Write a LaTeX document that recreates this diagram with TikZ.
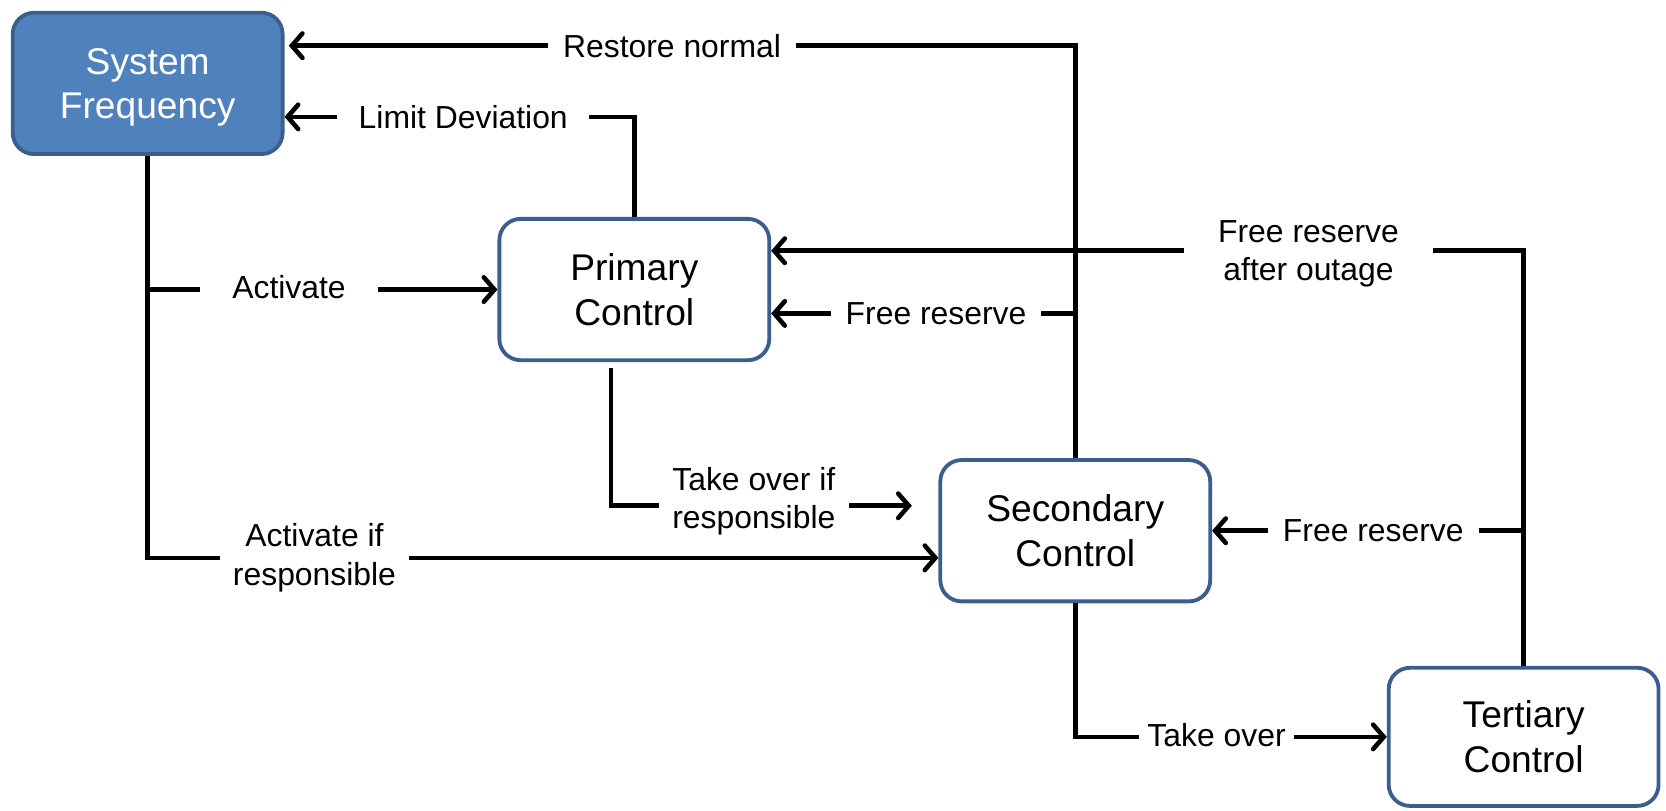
\documentclass[tikz,border=0pt]{standalone}
\usepackage{fontspec}
\setmainfont{Liberation Sans}
\usetikzlibrary{arrows.meta,calc}
\definecolor{boxblue}{HTML}{4F81BD}
\definecolor{edgeblue}{HTML}{3A5F8E}
\begin{document}
\begin{tikzpicture}[x=1pt,y=-1pt,
  box/.style={draw=edgeblue, line width=3.6pt, rounded corners=20pt, minimum width=254pt, minimum height=133pt, align=center, font=\fontsize{35}{42}\selectfont, fill=white, inner sep=0pt},
  conn/.style={line width=4.3pt},
  arr/.style={conn, -{Straight Barb[length=10pt,width=23pt,line cap=round]}},
  lbl/.style={fill=white, align=center, font=\fontsize{30}{36}\selectfont, inner xsep=14pt, inner ysep=1pt}]
\useasboundingbox (0,0) rectangle (1568,763);

% boxes
\node[box, fill=boxblue, text=white] (sf) at (139,78.5) {System\\\raisebox{0pt}[\height][0pt]{Frequency}};
\node[box] (pc) at (597,272.5) {Primary\\Control};
\node[box] (sc) at (1012,499.5) {Secondary\\Control};
\node[box, minimum height=130pt] (tc) at (1434,693.5) {Tertiary\\Control};

% junctions
\coordinate (ja) at (sf.south |- pc.west);
\coordinate (jb) at (sc.north |- 0,295);
\coordinate (jc) at (tc.north |- sc.east);

% connectors
\draw[arr, shorten >=4pt] (sc.north) |- (sf.east |- 0,43);
\draw[arr] (pc.north) |- (sf.east |- 0,110);
\draw[arr] (sf.south) |- (sc.west |- 0,525);
\draw[arr] (ja) -- (pc.west);
\draw[arr] ([xshift=-22pt,yshift=-6pt]pc.south) |- ([xshift=-25pt]sc.west |- 0,476);
\draw[arr] (jb) -- (pc.east |- jb);
\draw[arr] (tc.north) |- (pc.east |- 0,236);
\draw[arr] (jc) -- (sc.east);
\draw[arr] (sc.south) |- (tc.west);

% labels
\node[lbl] (lrn) at (632.5,43) {Restore normal};
\node[lbl, inner xsep=20pt] (lld) at (436,110) {Limit Deviation};
\node[lbl, inner xsep=30pt] (lac) at (272,270) {Activate};
\node[lbl, inner xsep=12pt] (lair) at (296,525) {Activate if\\responsible};
\node[lbl, inner xsep=13pt] (ltir) at (709.5,472) {Take over if\\responsible};
\node[lbl] (lfr1) at (881,295) {Free reserve};
\node[lbl, inner xsep=32pt] (lfro) at (1231.5,239) {Free reserve\\after outage};
\node[lbl] (lfr2) at (1292.5,499) {Free reserve};
\node[lbl, inner xsep=8pt] (lto) at (1145,692) {Take over};
\end{tikzpicture}
\end{document}
